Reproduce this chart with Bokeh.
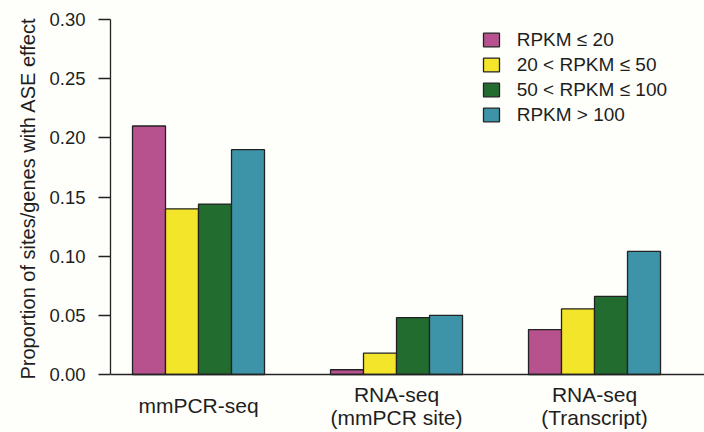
from bokeh.plotting import figure
from bokeh.models import (Range1d, FixedTicker, NumeralTickFormatter, Span, Title,
                          Legend, LegendItem, ColumnDataSource)
from bokeh.core.properties import value
from bokeh.embed import file_html
from bokeh.resources import INLINE

# ---- data ----
groups = ["mmPCR-seq", "RNA-seq\n(mmPCR site)", "RNA-seq\n(Transcript)"]
series_labels = ["RPKM \u2264 20", "20 < RPKM \u2264 50", "50 < RPKM \u2264 100", "RPKM > 100"]
rpkm_le20 = [0.210, 0.004, 0.038]
rpkm_20_50 = [0.140, 0.018, 0.0555]
rpkm_50_100 = [0.144, 0.048, 0.066]
rpkm_gt100 = [0.190, 0.050, 0.104]
y_ticks = [0.00, 0.05, 0.10, 0.15, 0.20, 0.25, 0.30]
y_title = "Proportion of sites/genes  with ASE effect"

series = [rpkm_le20, rpkm_20_50, rpkm_50_100, rpkm_gt100]
colors = ["#B7528F", "#F3E52A", "#236C30", "#3D94A9"]

FONT = "Liberation Sans"
BG = "#FEFEFB"
INK = "#1E1E1E"

n_series = len(series)
group_step = n_series + 2  # two bar-widths between groups

p = figure(width=704, height=432, output_backend="svg", toolbar_location=None,
           x_axis_location=None,
           x_range=Range1d(-0.667, 17.333), y_range=Range1d(-0.04901, 0.30),
           min_border_left=110, min_border_right=0, min_border_top=19, min_border_bottom=0)
p.background_fill_color = BG
p.border_fill_color = BG
p.outline_line_color = None
p.grid.visible = False

renderers = []
for i, vals in enumerate(series):
    xs = [g * group_step + i + 0.5 for g in range(len(groups))]
    src = ColumnDataSource(dict(x=xs, top=vals))
    r = p.vbar(x="x", top="top", bottom=0, width=1.0, source=src,
               fill_color=colors[i], line_color="#222222", line_width=1.3)
    renderers.append(r)

# baseline
p.add_layout(Span(location=0, dimension="width", line_color="#222222", line_width=1.3))

# y axis
ax = p.yaxis[0]
ax.bounds = (0, 0.30)
ax.ticker = FixedTicker(ticks=y_ticks)
ax.formatter = NumeralTickFormatter(format="0.00")
ax.minor_tick_line_color = None
ax.major_tick_in = 0
ax.major_tick_out = 12
ax.major_label_standoff = 13
ax.axis_line_color = "#222222"
ax.axis_line_width = 1.3
ax.major_tick_line_color = "#222222"
ax.major_tick_line_width = 1.3
ax.major_label_text_font = FONT
ax.major_label_text_font_size = "18.5px"
ax.major_label_text_color = INK

# y title (left-side title, shifted so it centres on the 0-0.30 span)
p.add_layout(Title(text=y_title, align="left", offset=53, standoff=15,
                   vertical_align="bottom", text_font=FONT, text_font_size="20px",
                   text_font_style="normal", text_color=INK), "left")

# category labels
lx, ly, lt = [], [], []
for g, name in enumerate(groups):
    lines = name.split("\n")
    n = len(lines)
    for k, line in enumerate(lines):
        lx.append(g * group_step + n_series / 2)
        ly.append(k - (n - 1) / 2)
        lt.append(line)
cat_src = ColumnDataSource(dict(x=lx, off=[v * 23 for v in ly], t=lt))
p.text(x="x", y=-0.0262, text="t", y_offset="off", source=cat_src,
       text_align="center", text_baseline="middle", text_font=value(FONT),
       text_font_size="21px", text_color=INK)

legend = Legend(items=[LegendItem(label=series_labels[i], renderers=[renderers[i]])
                       for i in range(n_series)],
                location=(370.7, 304.8), orientation="vertical",
                glyph_width=20, glyph_height=17, label_height=25, label_width=20,
                spacing=0, padding=0, margin=0, label_standoff=16,
                border_line_color=None, background_fill_alpha=0,
                label_text_font=FONT, label_text_font_size="19px",
                label_text_color=INK, label_text_baseline="middle")
p.add_layout(legend)

open("out.html", "w").write(file_html(p, INLINE))
